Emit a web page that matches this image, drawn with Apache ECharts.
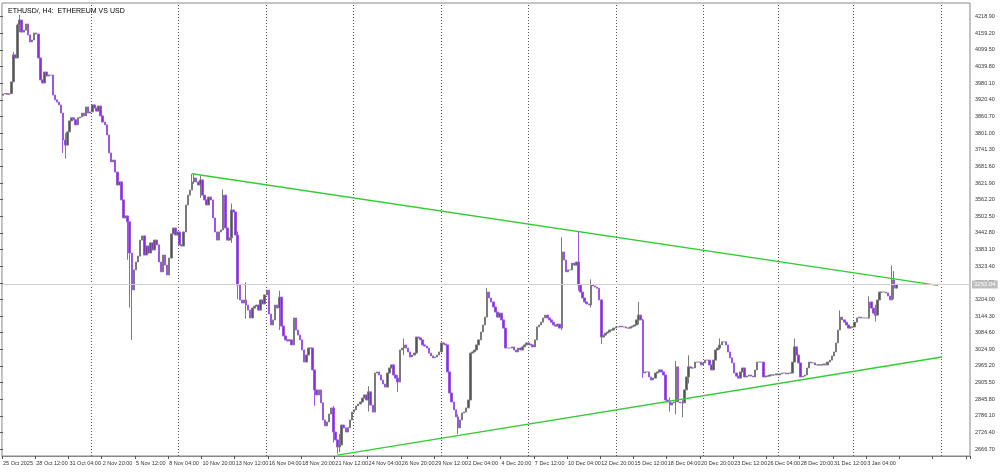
<![CDATA[<!DOCTYPE html>
<html><head><meta charset="utf-8">
<script src="https://cdn.jsdelivr.net/npm/echarts@6/dist/echarts.min.js"></script>
<style>html,body{margin:0;padding:0;background:#fff}#c{width:1000px;height:476px}</style>
</head><body><div id="c"></div>
<script>
// H4 closes, read from the picture (first candle 25 Oct 2025 20:00)
const closes = [
3930,3932,3928,3931,3973,4069,4058,4175,4193,4150,4157,4179,4140,4115,4122,4147,4143,4058,3980,3969,
4008,3994,3997,3997,3926,3909,3901,3891,3862,3766,3748,3795,3834,3845,3838,3820,3845,3848,3862,3852,
3884,3862,3866,3891,3880,3869,3887,3852,3830,3820,3784,3720,3688,3695,3652,3606,3617,3553,3489,3496,
3475,3364,3233,3304,3332,3353,3410,3425,3357,3389,3364,3400,3375,3410,3393,3332,3297,3357,3321,3286,
3346,3432,3453,3428,3439,3393,3389,3439,3535,3570,3588,3617,3631,3617,3606,3624,3570,3553,3535,3563,
3553,3489,3439,3410,3439,3446,3570,3453,3410,3418,3517,3510,3428,3250,3197,3186,3197,3179,3161,3133,
3168,3175,3179,3161,3197,3183,3215,3232,3147,3108,3126,3179,3168,3207,3104,3069,3055,3051,3055,3037,
3133,3090,3072,3055,3019,2976,3001,3026,3026,2948,2877,2859,2877,2831,2770,2749,2763,2791,2813,2727,
2699,2674,2681,2752,2742,2727,2742,2770,2798,2806,2820,2827,2834,2848,2859,2841,2870,2823,2798,2937,
2941,2930,2912,2898,2887,2937,2955,2966,2930,2919,2905,3019,3026,3037,3026,3012,2994,3001,3008,3065,
3062,3055,3037,3033,3026,3008,2998,2991,2994,3001,3012,3044,3040,3037,2941,2866,2834,2806,2781,2742,
2770,2795,2798,2813,2841,3008,3012,3019,3037,3055,3083,3108,3136,3225,3204,3190,3172,3154,3136,3150,
3126,3097,3026,3026,3026,3030,3019,3012,3026,3019,3030,3037,3044,3040,3037,3030,3055,3101,3108,3118,
3133,3143,3133,3126,3118,3108,3104,3111,3097,3368,3339,3297,3304,3304,3328,3321,3332,3250,3225,3204,
3190,3183,3179,3250,3247,3243,3239,3197,3065,3072,3079,3083,3090,3090,3097,3101,3101,3104,3101,3101,
3097,3097,3101,3104,3108,3126,3143,3126,2937,2941,2941,2923,2912,2919,2937,2941,2948,2941,2930,2841,
2834,2823,2831,2834,2959,2834,2831,2831,2877,2923,2959,2955,2955,2976,2976,2976,2966,2973,2983,2983,
2966,2948,2983,3019,3026,3037,3048,3048,3037,3012,2991,2973,2937,2926,2919,2941,2955,2923,2926,2930,
2926,2923,2948,2976,2976,2976,2923,2926,2926,2930,2930,2930,2934,2930,2934,2937,2937,2934,2937,2937,
2976,3030,3001,2973,2923,2926,2930,2955,2976,2973,2973,2966,2966,2966,2966,2969,2966,2976,2983,2998,
3012,3044,3090,3136,3126,3118,3108,3097,3101,3101,3118,3133,3136,3133,3133,3133,3133,3190,3168,3150,
3143,3197,3225,3225,3225,3222,3211,3197,3268,3239,3252
];
const firstOpen = 3925;
// notable wick extremes read from the picture: [index, high, low]
const wicks = [
[8,4212,4150],[5,4080,3990],[7,4180,4060],[29,3800,3720],[30,3790,3700],[60,3480,3340],[61,3470,3170],[62,3330,3055],
[91,3645,3600],[92,3645,3610],[95,3640,3560],[106,3590,3450],[110,3540,3400],[113,3440,3200],[117,3260,3130],
[133,3230,3090],[150,2900,2820],[159,2820,2690],[161,2700,2650],[162,2720,2655],[176,2890,2800],[190,2930,2870],
[193,3060,3000],[219,2790,2720],[233,3240,3140],[269,3420,3090],[277,3440,3230],[283,3270,3170],[288,3200,3040],
[306,3190,3110],[308,3130,2920],[321,2850,2800],[324,2980,2790],[327,2840,2780],[330,3000,2900],[345,3060,3020],
[381,3060,2980],[403,3160,3090],[417,3210,3130],[420,3180,3120],[428,3320,3240],[429,3300,3200]
];
const yTicks = {min: 2607.0, step: 59.7};
const lastPrice = 3252.04;
const upperLine = [[91, 3646], [450, 3249]];
const lowerLine = [[161, 2645], [452, 2994]];
const gridLineX = [91,178,266,353,441,528,616,703,778,853,941];
const totalSlots = 466;

const start = new Date(Date.UTC(2025, 9, 25, 20, 0));
const mon = ['Jan','Feb','Mar','Apr','May','Jun','Jul','Aug','Sep','Oct','Nov','Dec'];
const cats = [];
for (let i = 0; i < totalSlots; i++) {
  const d = new Date(start.getTime() + i * 4 * 3600 * 1000);
  const hh = String(d.getUTCHours()).padStart(2,'0');
  cats.push(i === 0 ? d.getUTCDate()+' '+mon[d.getUTCMonth()]+' '+d.getUTCFullYear()
                    : d.getUTCDate()+' '+mon[d.getUTCMonth()]+' '+hh+':00');
}
const wmap = {}; wicks.forEach(w => wmap[w[0]] = w);
const ohlc = closes.map((c, i) => {
  const o = i === 0 ? firstOpen : closes[i-1];
  let h = Math.max(o, c), l = Math.min(o, c);
  if (wmap[i]) { h = Math.max(h, wmap[i][1]); l = Math.min(l, wmap[i][2]); }
  return [o, c, l, h];
});

const chart = echarts.init(document.getElementById('c'), null, {renderer: 'canvas'});
const font = 'Liberation Sans';
const pxPerPrice = 434 / (4210.9 - 2666.7);
const yMax1 = 4210.9 + 12 / pxPerPrice, yMin1 = 2666.7 - 7 / pxPerPrice;
const yMax2 = yTicks.min + 28 * yTicks.step;
const top2 = 15 - (yMax2 - 4210.9) * pxPerPrice;
const bottom2 = 476 - (449 + (2666.7 - yTicks.min) * pxPerPrice);

chart.setOption({
  animation: false,
  backgroundColor: '#fff',
  title: {text: 'ETHUSD/, H4:  ETHEREUM VS USD', left: 3, top: 3,
    textStyle: {fontSize: 7, fontWeight: 'normal', color: '#000', fontFamily: font}},
  grid: [
    {left: 0, right: 30, top: 3, bottom: 20, show: true, borderColor: '#888', borderWidth: 1},
    {left: 0, right: 30, top: top2, bottom: bottom2, show: false},
    {left: 0, right: 30, top: 3, bottom: 20, show: false}
  ],
  xAxis: [
    {type: 'category', data: cats, gridIndex: 0, boundaryGap: true,
     axisLine: {lineStyle: {color: '#888'}},
     axisTick: {show: true, interval: 15, length: 3, lineStyle: {color: '#555'}},
     axisLabel: {interval: 15, fontSize: 5.5, color: '#333', fontFamily: font, align: 'left', margin: 4,
       showMinLabel: true, hideOverlap: false,
       formatter: (v, i) => i < closes.length ? v : ''},
     splitLine: {show: false}},
    {type: 'value', gridIndex: 1, show: false, min: 0, max: 1},
    {type: 'value', gridIndex: 2, show: false, min: 0, max: 970}
  ],
  yAxis: [
    {type: 'value', gridIndex: 0, min: yMin1, max: yMax1, show: false, splitLine: {show: false}},
    {type: 'value', gridIndex: 1, position: 'right', min: yTicks.min, max: yMax2, interval: yTicks.step,
     axisLine: {show: false}, axisTick: {show: true, length: 3, lineStyle: {color: '#555'}},
     axisLabel: {fontSize: 5.5, color: '#333', fontFamily: font, margin: 5, showMinLabel: false, showMaxLabel: false,
       formatter: v => v.toFixed(2)},
     splitLine: {show: false}},
    {type: 'value', gridIndex: 2, show: false, min: 0, max: 1}
  ],
  series: [
    {type: 'line', xAxisIndex: 2, yAxisIndex: 2, data: [], symbol: 'none', silent: true,
     markLine: {silent: true, symbol: 'none', label: {show: false},
       lineStyle: {color: '#555', type: [1, 2], width: 1},
       data: gridLineX.map(x => ({xAxis: x}))}},
    {type: 'candlestick', xAxisIndex: 0, yAxisIndex: 0, data: ohlc, barWidth: 2,
     itemStyle: {color: '#555555', borderColor: '#7a7a7a', color0: '#8a2be2', borderColor0: '#9d55e8', borderWidth: 1},
     markLine: {silent: true, symbol: 'none',
       data: [
         [{coord: upperLine[0], lineStyle: {color: '#33cc33', width: 1.3, type: 'solid'}, label: {show: false}}, {coord: upperLine[1]}],
         [{coord: lowerLine[0], lineStyle: {color: '#33cc33', width: 1.3, type: 'solid'}, label: {show: false}}, {coord: lowerLine[1]}],
         {yAxis: lastPrice, lineStyle: {color: '#cfcfcf', width: 1, type: 'solid'},
          label: {show: true, position: 'end', distance: 2, formatter: lastPrice.toFixed(2), fontSize: 6, color: '#fff',
            backgroundColor: '#bdbdbd', padding: [1, 2], fontFamily: font}}
       ]}}
  ]
});
</script></body></html>]]>
